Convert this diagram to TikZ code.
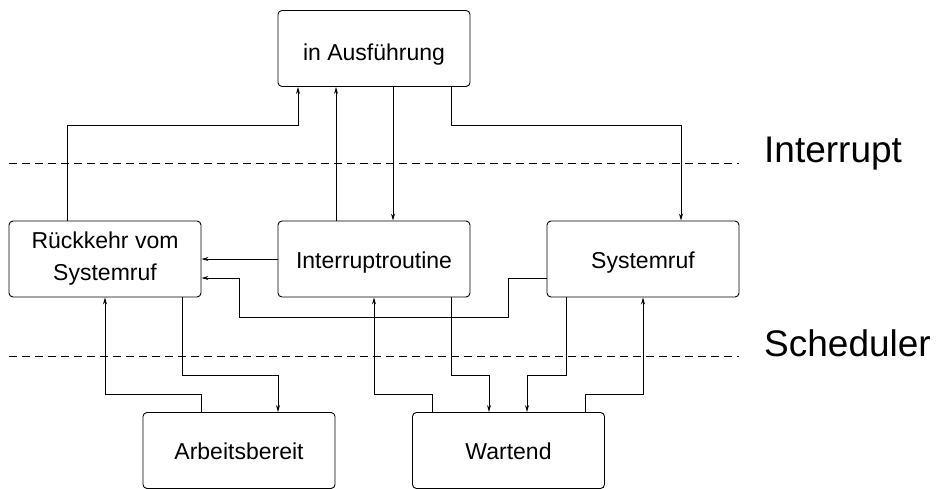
\documentclass[tikz,border=0pt]{standalone}
\usepackage{fontspec}
\setmainfont{Liberation Sans}
\usetikzlibrary{arrows.meta}

\tikzset{
  state/.style={draw, rounded corners=4pt, line width=0.9pt, minimum width=192pt, minimum height=76pt,
    align=center, font=\fontsize{23}{32}\selectfont},
  oneline/.style={state, text height=18pt, text depth=0pt},
  flow/.style={line width=0.9pt, -{Stealth[length=7pt,width=4pt]}},
  level/.style={line width=0.9pt, dash pattern=on 8pt off 5pt},
  levellabel/.style={anchor=base west, inner sep=0pt, font=\fontsize{37}{44}\selectfont}
}

\begin{document}
\begin{tikzpicture}[x=1pt,y=-1pt]
          \useasboundingbox (0,0) rectangle (936,489);
          \node[oneline, text height=25pt] (aus) at (374,48.5) {in Ausführung};
          \node[state] (rueck) at (105,259) {Rückkehr vom\\Systemruf};
          \node[oneline] (intr) at (374,259) {Interruptroutine};
          \node[oneline] (sys) at (643,259) {Systemruf};
          \node[oneline] (arb) at (239,450.5) {Arbeitsbereit};
          \node[oneline] (wart) at (508.5,450.5) {Wartend};

          \coordinate (intl) at (9,163); \coordinate (intr2) at (739,163);
          \coordinate (schl) at (9,356); \coordinate (schr) at (739,356);
          \draw[level] (intl) -- (intr2);
          \draw[level] (schl) -- (schr);
          \node[levellabel] (lint) at (764,163) {Interrupt};
          \node[levellabel] (lsch) at (764,356) {Scheduler};

          \draw[flow] (rueck.north -| 67,0) |- (298,125) -- (aus.south -| 298,0);
          \draw[flow] (intr.north -| 336,0) -- (aus.south -| 336,0);
          \draw[flow] (aus.south -| 393,0) -- (intr.north -| 393,0);
          \draw[flow] (aus.south -| 451,0) |- (681,125) -- (sys.north -| 681,0);
          \draw[flow] (intr.west) -- (rueck.east);
          \draw[flow] (sys.west |- 0,278) -| (508,317) -| (239,278) -- (rueck.east |- 0,278);
          \draw[flow] (rueck.south -| 182,0) |- (278,375) -- (arb.north -| 278,0);
          \draw[flow] (arb.north -| 201,0) |- (105,394) -- (rueck.south);
          \draw[flow] (wart.north -| 432,0) |- (374,394) -- (intr.south);
          \draw[flow] (intr.south -| 451,0) |- (489,375) -- (wart.north -| 489,0);
          \draw[flow] (sys.south -| 566,0) |- (527,375) -- (wart.north -| 527,0);
          \draw[flow] (wart.north -| 585,0) |- (643,394) -- (sys.south);
\end{tikzpicture}
\end{document}
